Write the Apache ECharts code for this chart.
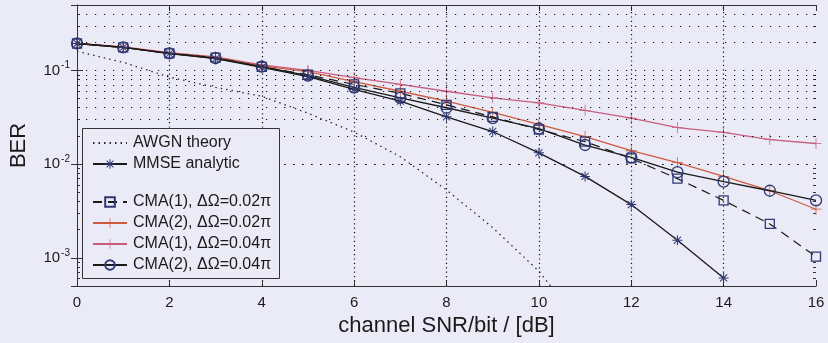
<!DOCTYPE html>
<html>
<head>
<meta charset="utf-8">
<script src="https://cdn.jsdelivr.net/npm/echarts@6/dist/echarts.min.js"></script>
<style>
  html, body { margin: 0; padding: 0; background: #eaebf6; }
  #chart { width: 828px; height: 343px; }
</style>
</head>
<body>
<div id="chart"></div>
<script>
// Bit error rate versus channel SNR per bit (dB)
const snr = [0, 1, 2, 3, 4, 5, 6, 7, 8, 9, 10, 11, 12, 13, 14, 15, 16];
const awgnTheory = [0.16, 0.122, 0.085, 0.066, 0.053, 0.035, 0.022, 0.012, 0.0053, 0.0021, 0.00072, 0.00017];
const mmseAnalytic = [0.194, 0.176, 0.151, 0.134, 0.108, 0.086, 0.063, 0.047, 0.032, 0.0223, 0.0132, 0.0074, 0.0037, 0.00154, 0.00061];
const cma1Slow = [0.194, 0.176, 0.152, 0.137, 0.109, 0.090, 0.071, 0.057, 0.043, 0.032, 0.0234, 0.0174, 0.0115, 0.0070, 0.0041, 0.0023, 0.00103];
const cma2Slow = [0.194, 0.177, 0.153, 0.138, 0.112, 0.097, 0.076, 0.060, 0.047, 0.0356, 0.0265, 0.0197, 0.0139, 0.0104, 0.0074, 0.0052, 0.0033];
const cma1Fast = [0.195, 0.178, 0.155, 0.140, 0.115, 0.100, 0.084, 0.071, 0.060, 0.051, 0.045, 0.0375, 0.031, 0.0245, 0.0218, 0.0183, 0.0166];
const cma2Fast = [0.194, 0.176, 0.152, 0.135, 0.110, 0.088, 0.066, 0.051, 0.040, 0.031, 0.024, 0.016, 0.0118, 0.0082, 0.0065, 0.0052, 0.0041];

const xGridValues = [2, 4, 6, 8, 10, 12, 14];
const yMin = 0.0005, yMax = 0.5;
const yGridValues = [
  0.0006, 0.0007, 0.0008, 0.0009,
  0.001, 0.002, 0.003, 0.004, 0.005, 0.006, 0.007, 0.008, 0.009,
  0.01, 0.02, 0.03, 0.04, 0.05, 0.06, 0.07, 0.08, 0.09,
  0.1, 0.2, 0.3, 0.4
];
const yMinorTicks = yGridValues.filter(v => Math.abs(Math.log10(v) - Math.round(Math.log10(v))) > 1e-6);

const names = {
  awgn: 'AWGN theory',
  mmse: 'MMSE analytic',
  c1s: 'CMA(1), ΔΩ=0.02π',
  c2s: 'CMA(2), ΔΩ=0.02π',
  c1f: 'CMA(1), ΔΩ=0.04π',
  c2f: 'CMA(2), ΔΩ=0.04π'
};

const pairs = ys => ys.map((y, i) => [snr[i], y]);

const FONT = 'Liberation Sans, Arial, sans-serif';
const BG = '#eaebf6';
const INK = '#1a1a1a';
const MARK = '#2f3872';
const RED_A = '#cf5a3e';
const RED_B = '#c95d80';

const asterisk = 'path://M9,0H11V20H9Z M0,9H20V11H0Z M2.2,3.6L3.6,2.2L17.8,16.4L16.4,17.8Z M16.4,2.2L17.8,3.6L3.6,17.8L2.2,16.4Z';
const plus = 'path://M9.3,0H10.7V20H9.3Z M0,9.3H20V10.7H0Z';

const chart = echarts.init(document.getElementById('chart'), null, { renderer: 'canvas' });

const supLabel = v => {
  const e = Math.log10(v);
  const r = Math.round(e);
  if (Math.abs(e - r) > 1e-6) return '';
  return '{a|10}{b|' + r + '}';
};

const yAxisBase = {
  type: 'log', logBase: 10, min: yMin, max: yMax,
  splitLine: { show: false }
};

const legendBase = {
  orient: 'vertical', left: 87,
  itemWidth: 34, itemHeight: 12, itemGap: 5,
  textStyle: { fontSize: 16, color: INK, fontFamily: FONT, padding: [0, 0, 0, 1] },
  selectedMode: false, z: 8
};

chart.setOption({
  backgroundColor: BG,
  animation: false,
  textStyle: { fontFamily: FONT },
  grid: { left: 74, right: 12, top: 5, bottom: 57 },
  xAxis: [
    {
      type: 'value', min: 0, max: 16, interval: 2,
      name: 'channel SNR/bit / [dB]', nameLocation: 'middle', nameGap: 27,
      nameTextStyle: { fontSize: 22, color: INK, fontFamily: FONT },
      axisLine: { show: true, lineStyle: { color: '#333', width: 1 } },
      axisTick: { show: true, inside: true, length: 6, lineStyle: { color: '#333' } },
      axisLabel: { fontSize: 15, color: INK, margin: 9, fontFamily: FONT },
      splitLine: { show: false }
    },
    {
      type: 'value', min: 0, max: 16, interval: 2, position: 'top',
      axisLine: { show: true, lineStyle: { color: '#333', width: 1 } },
      axisTick: { show: true, inside: true, length: 6, lineStyle: { color: '#333' } },
      axisLabel: { show: false },
      splitLine: { show: false }
    }
  ],
  yAxis: [
    Object.assign({}, yAxisBase, {
      position: 'left',
      name: 'BER', nameLocation: 'middle', nameGap: 47,
      nameTextStyle: { fontSize: 22, color: INK, fontFamily: FONT },
      axisLine: { show: true, lineStyle: { color: '#333', width: 1 } },
      axisTick: { show: true, inside: true, length: 6, lineStyle: { color: '#333' } },
      axisLabel: {
        margin: 7, color: INK, formatter: supLabel,
        rich: {
          a: { fontSize: 15, color: INK, fontFamily: FONT },
          b: { fontSize: 10, color: INK, fontFamily: FONT, verticalAlign: 'bottom', padding: [0, 0, 10, 1] }
        }
      }
    }),
    Object.assign({}, yAxisBase, {
      position: 'right',
      axisLine: { show: true, lineStyle: { color: '#333', width: 1 } },
      axisTick: { show: true, inside: true, length: 6, lineStyle: { color: '#333' } },
      axisLabel: { show: false }
    }),
    Object.assign({}, yAxisBase, {
      position: 'left',
      axisLine: { show: false },
      axisTick: { show: true, inside: true, length: 3, customValues: yMinorTicks, lineStyle: { color: '#333' } },
      axisLabel: { show: false }
    }),
    Object.assign({}, yAxisBase, {
      position: 'right',
      axisLine: { show: false },
      axisTick: { show: true, inside: true, length: 3, customValues: yMinorTicks, lineStyle: { color: '#333' } },
      axisLabel: { show: false }
    })
  ],
  legend: [
    Object.assign({}, legendBase, {
      top: 130,
      data: [{ name: names.awgn, itemStyle: { opacity: 0 } }, names.mmse]
    }),
    Object.assign({}, legendBase, {
      top: 189,
      data: [names.c1s, names.c2s, names.c1f, names.c2f]
    })
  ],
  graphic: [
    {
      type: 'rect', z: 7, silent: true,
      shape: { x: 82.5, y: 128.5, width: 197, height: 150 },
      style: { fill: BG, stroke: '#333', lineWidth: 1 }
    }
  ],
  series: [
    {
      name: names.awgn, type: 'line', data: pairs(awgnTheory),
      symbol: 'none', clip: true, z: 3,
      lineStyle: { color: '#2a2a2a', width: 1.3, type: [1.5, 4] },
      itemStyle: { color: '#2a2a2a' },
      markLine: {
        silent: true, symbol: 'none', label: { show: false },
        lineStyle: { color: '#111', width: 1.2, type: [1.2, 7.8], opacity: 1 },
        data: yGridValues.map(v => ({ yAxis: v }))
      }
    },
    {
      name: 'vgrid', type: 'line', data: [],
      markLine: {
        silent: true, symbol: 'none', label: { show: false },
        lineStyle: { color: '#111', width: 1.2, type: [1.2, 3.2], opacity: 1 },
        data: xGridValues.map(v => ({ xAxis: v }))
      }
    },
    {
      name: names.c1f, type: 'line', data: pairs(cma1Fast), z: 4,
      symbol: plus, symbolSize: 11,
      lineStyle: { color: RED_B, width: 1.3 },
      itemStyle: { color: RED_B }
    },
    {
      name: names.c2s, type: 'line', data: pairs(cma2Slow), z: 4,
      symbol: plus, symbolSize: 11,
      lineStyle: { color: RED_A, width: 1.3 },
      itemStyle: { color: RED_A }
    },
    {
      name: names.c1s, type: 'line', data: pairs(cma1Slow), z: 5,
      symbol: 'rect', symbolSize: 9,
      lineStyle: { color: INK, width: 1.2, type: [9, 6] },
      itemStyle: { color: 'rgba(0,0,0,0)', borderColor: MARK, borderWidth: 1.3 }
    },
    {
      name: names.c2f, type: 'line', data: pairs(cma2Fast), z: 5,
      symbol: 'circle', symbolSize: 11,
      lineStyle: { color: INK, width: 1.3 },
      itemStyle: { color: 'rgba(0,0,0,0)', borderColor: MARK, borderWidth: 1.3 }
    },
    {
      name: names.mmse, type: 'line', data: pairs(mmseAnalytic), z: 6,
      symbol: asterisk, symbolSize: 10,
      lineStyle: { color: INK, width: 1.3 },
      itemStyle: { color: MARK }
    }
  ]
});
</script>
</body>
</html>
